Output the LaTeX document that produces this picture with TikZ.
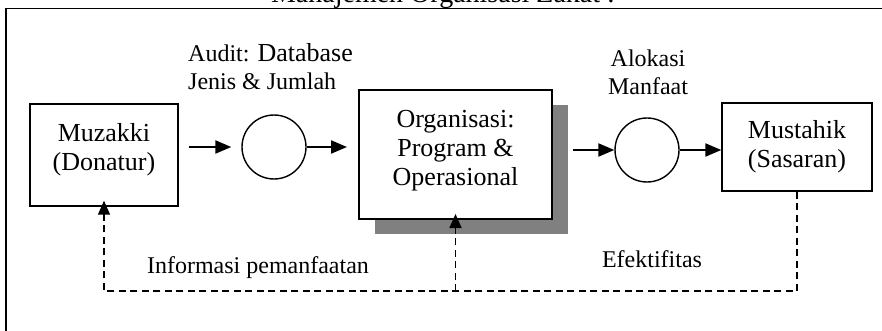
\documentclass[tikz,border=0pt]{standalone}
\usepackage{fontspec}
\setmainfont{Liberation Serif}
\usetikzlibrary{arrows.meta,shadows}
\definecolor{shadowgray}{RGB}{128,128,128}
\newcommand{\boxfont}{\fontsize{26}{29}\selectfont}
\newcommand{\labelfont}{\fontsize{24}{28}\selectfont}
\tikzset{
    entity/.style={draw, line width=1.4pt, align=center, font=\boxfont, inner sep=0pt},
    pool/.style={draw, circle, line width=1.4pt, minimum size=64pt, inner sep=0pt},
    flow/.style={line width=2.2pt, -{Triangle[length=16pt,width=13pt]}},
    feedback/.style={line width=1.6pt, dash pattern=on 7pt off 4.5pt, -{Triangle[length=14pt,width=12pt]}},
    caption/.style={font=\labelfont, align=center, inner sep=0pt}
}
\begin{document}
\begin{tikzpicture}[x=1pt, y=-1pt]
    \useasboundingbox (0,0) rectangle (882,331);
    % Frame and title
    \draw[line width=1.6pt] (6,8.5) rectangle (900,345);
    \node[anchor=base, font=\fontsize{28}{30}\selectfont] (title) at (443,3) {Manajemen Organisasi Zakat :};
    % Donor, organisation, recipient
    \node[entity, minimum width=148pt, minimum height=102pt, text depth=16pt] (muzakki) at (104,155) {Muzakki\\(Donatur)};
    \node[entity, line width=2pt, minimum width=193pt, minimum height=129pt, text depth=14pt, fill=white,
          drop shadow={shadow xshift=16pt, shadow yshift=-15pt, fill=shadowgray, opacity=1}] (org) at (455.5,154.5) {Organisasi:\\Program \&\\Operasional};
    \node[entity, minimum width=150pt, minimum height=88pt] (mustahik) at (797,147) {Mustahik\\(Sasaran)};
    % Audit and allocation
    \node[pool] (audit) at (274,147) {};
    \node[pool] (alokasi) at (647,150) {};
    \node[caption, anchor=base west, align=left] (auditlabel) at (188,90) {Audit: {\fontsize{26}{28}\selectfont Database}\\Jenis \& Jumlah};
    \node[caption, anchor=base] (alokasilabel) at (648,95) {Alokasi\\Manfaat};
    % Flow of funds
    \draw[flow, shorten <=10pt, shorten >=10pt] (muzakki.east |- audit) -- (audit.west);
    \draw[flow, shorten >=11pt] (audit.east) -- (audit -| org.west);
    \draw[flow, shorten <=20pt] (alokasi -| org.east) -- (alokasi.west);
    \draw[flow] (alokasi.east) -- (alokasi -| mustahik.west);
    % Feedback
    \coordinate (junction) at (org.south |- 0,291);
    \draw[feedback, shorten >=-6pt] (mustahik.south) |- (junction) -| (muzakki.south);
    \draw[feedback, shorten >=-6pt] (junction) -- (org.south);
    \node[caption, anchor=base] (infolabel) at (258,273) {Informasi pemanfaatan};
    \node[caption, anchor=base] (efeklabel) at (652,267) {Efektifitas};
\end{tikzpicture}
\end{document}
